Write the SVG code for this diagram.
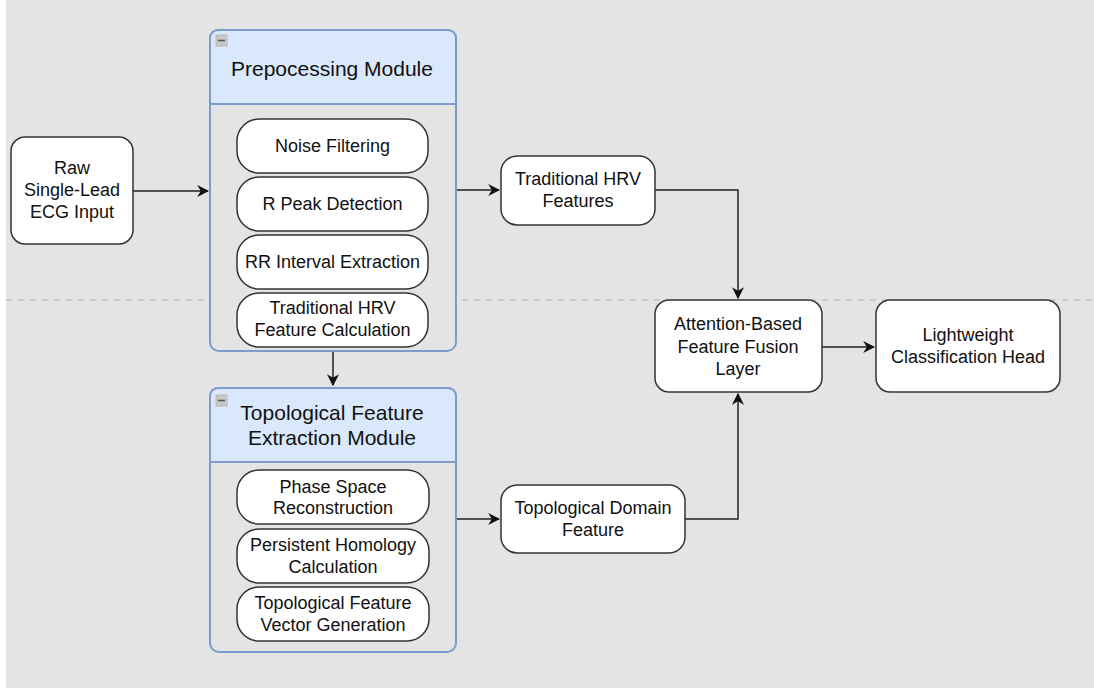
<svg xmlns="http://www.w3.org/2000/svg" width="1094" height="688" viewBox="0 0 1094 688">
<defs>
<style>
text{font-family:"Liberation Sans",Arial,sans-serif;fill:#111;text-anchor:middle;dominant-baseline:central}
.t{font-size:18px}
.h{font-size:21px}
.box{fill:#fff;stroke:#333;stroke-width:1.5}
.mod{fill:#e4e4e4;stroke:#7c9cd0;stroke-width:2}
.hdr{fill:#dae8fc;stroke:#7c9cd0;stroke-width:2}
.icon{fill:#c8c8c8;stroke:#b0b0b0;stroke-width:0.8}
.c{fill:none;stroke:#222;stroke-width:1.5}
</style>
<marker id="ah" viewBox="0 0 10 10" refX="9" refY="5" markerWidth="8" markerHeight="8" markerUnits="userSpaceOnUse" orient="auto"><path d="M0,0 L10,5 L0,10 L3,5 Z" fill="#111"/></marker>
<marker id="ah2" viewBox="0 0 10 10" refX="9" refY="5" markerWidth="12" markerHeight="12" markerUnits="userSpaceOnUse" orient="auto"><path d="M0,0 L10,5 L0,10 L3,5 Z" fill="#111"/></marker>
</defs>
<rect x="0" y="0" width="1094" height="688" fill="#fff"/>
<rect x="6" y="0" width="1088" height="688" fill="#e4e4e4"/>
<line x1="6" y1="300" x2="1094" y2="300" stroke="#c4c4c4" stroke-width="1.5" stroke-dasharray="6 6"/>

<g id="connectors">
<path class="c" d="M133,191 H208" marker-end="url(#ah2)"/>
<path class="c" d="M456,190 H499" marker-end="url(#ah2)"/>
<path class="c" d="M655,190 H738 V298" marker-end="url(#ah2)"/>
<path class="c" d="M333,351 V385" marker-end="url(#ah2)"/>
<path class="c" d="M456,519 H499" marker-end="url(#ah2)"/>
<path class="c" d="M685,519 H738 V394" marker-end="url(#ah2)"/>
<path class="c" d="M822,347 H874" marker-end="url(#ah2)"/>
</g>

<g id="raw">
<rect class="box" x="11" y="137" width="122" height="107" rx="14"/>
<text class="t" x="72" y="168">Raw</text>
<text class="t" x="72" y="190">Single-Lead</text>
<text class="t" x="72" y="212">ECG Input</text>
</g>

<g id="prep-module">
<rect class="mod" x="210" y="30" width="246" height="321" rx="9"/>
<path class="hdr" d="M210,104 V39 Q210,30 219,30 H447 Q456,30 456,39 V104 Z"/>
<rect class="icon" x="216" y="35" width="11" height="11"/>
<line x1="218" y1="40.5" x2="225" y2="40.5" stroke="#555" stroke-width="1.5"/>
<text class="h" x="332" y="68">Prepocessing Module</text>
</g>
<g id="noise">
<rect class="box" x="237" y="119" width="191" height="54" rx="22"/>
<text class="t" x="332.5" y="146">Noise Filtering</text>
</g>
<g id="rpeak">
<rect class="box" x="237" y="177" width="191" height="54" rx="22"/>
<text class="t" x="332.5" y="204">R Peak Detection</text>
</g>
<g id="rr">
<rect class="box" x="237" y="235" width="191" height="54" rx="22"/>
<text class="t" x="332.5" y="262">RR Interval Extraction</text>
</g>
<g id="hrvcalc">
<rect class="box" x="237" y="293" width="191" height="54" rx="22"/>
<text class="t" x="332.5" y="308">Traditional HRV</text>
<text class="t" x="332.5" y="330">Feature Calculation</text>
</g>

<g id="topo-module">
<rect class="mod" x="210" y="388" width="246" height="264" rx="9"/>
<path class="hdr" d="M210,462 V397 Q210,388 219,388 H447 Q456,388 456,397 V462 Z"/>
<rect class="icon" x="216" y="395" width="11" height="11"/>
<line x1="218" y1="400.5" x2="225" y2="400.5" stroke="#555" stroke-width="1.5"/>
<text class="h" x="332" y="412">Topological Feature</text>
<text class="h" x="332" y="437">Extraction Module</text>
</g>
<g id="phase">
<rect class="box" x="237" y="470" width="192" height="54" rx="22"/>
<text class="t" x="333" y="487">Phase Space</text>
<text class="t" x="333" y="508">Reconstruction</text>
</g>
<g id="homology">
<rect class="box" x="237" y="529" width="192" height="54" rx="22"/>
<text class="t" x="333" y="545">Persistent Homology</text>
<text class="t" x="333" y="567">Calculation</text>
</g>
<g id="vector">
<rect class="box" x="237" y="587" width="192" height="54" rx="22"/>
<text class="t" x="333" y="603">Topological Feature</text>
<text class="t" x="333" y="625">Vector Generation</text>
</g>

<g id="hrv-features">
<rect class="box" x="501" y="156" width="154" height="69" rx="16"/>
<text class="t" x="578" y="179">Traditional HRV</text>
<text class="t" x="578" y="201">Features</text>
</g>
<g id="topo-domain">
<rect class="box" x="501" y="485" width="184" height="68" rx="16"/>
<text class="t" x="593" y="508">Topological Domain</text>
<text class="t" x="593" y="530">Feature</text>
</g>
<g id="fusion">
<rect class="box" x="655" y="300" width="167" height="92" rx="14"/>
<text class="t" x="738" y="324">Attention-Based</text>
<text class="t" x="738" y="347">Feature Fusion</text>
<text class="t" x="738" y="369">Layer</text>
</g>
<g id="head">
<rect class="box" x="876" y="300" width="184" height="92" rx="14"/>
<text class="t" x="968" y="335">Lightweight</text>
<text class="t" x="968" y="357">Classification Head</text>
</g>
</svg>
